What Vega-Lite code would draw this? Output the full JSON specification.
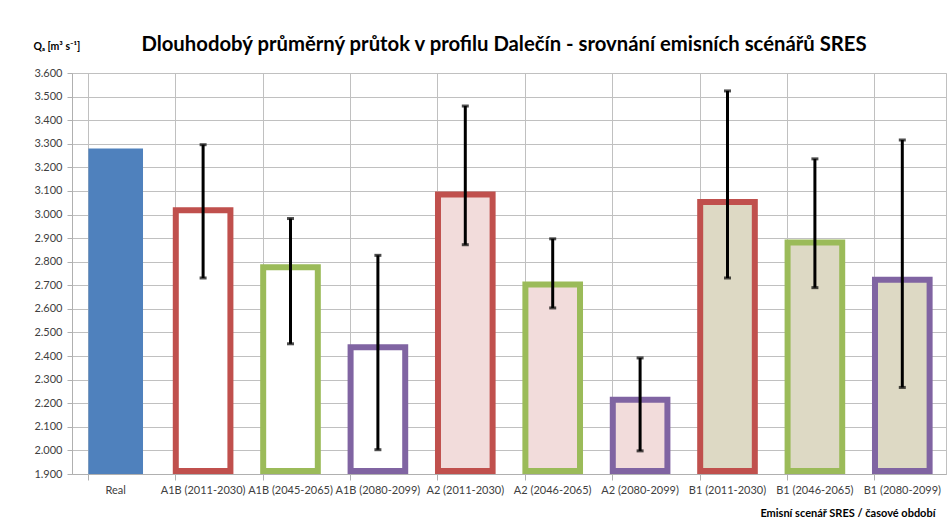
{
  "$schema": "https://vega.github.io/schema/vega-lite/v6.json",
  "width": 874,
  "height": 401,
  "autosize": "none",
  "padding": {"left": 72, "top": 73, "right": 3, "bottom": 51},
  "background": "white",
  "config": {
    "font": "Lato",
    "view": {"stroke": "#c0c0c0", "strokeWidth": 1},
    "axis": {"labelFont": "Lato", "titleFont": "Lato"}
  },
  "title": {
    "text": "Dlouhodobý průměrný průtok v profilu Dalečín - srovnání emisních scénářů SRES",
    "font": "Lato",
    "fontSize": 20.3,
    "fontWeight": "bold",
    "color": "#000000",
    "anchor": "middle",
    "dx": -5,
    "offset": -30,
    "baseline": "alphabetic"
  },
  "data": {
    "values": [
      {"label": "Real", "scenario": "Real", "horizon": "Real", "q": 3.28, "lo": null, "hi": null},
      {"label": "A1B (2011-2030)", "scenario": "A1B", "horizon": "near", "q": 3.018, "lo": 2.731, "hi": 3.296},
      {"label": "A1B (2045-2065)", "scenario": "A1B", "horizon": "mid", "q": 2.777, "lo": 2.452, "hi": 2.983},
      {"label": "A1B (2080-2099)", "scenario": "A1B", "horizon": "far", "q": 2.437, "lo": 2.003, "hi": 2.827},
      {"label": "A2 (2011-2030)", "scenario": "A2", "horizon": "near", "q": 3.085, "lo": 2.872, "hi": 3.46},
      {"label": "A2 (2046-2065)", "scenario": "A2", "horizon": "mid", "q": 2.703, "lo": 2.604, "hi": 2.897},
      {"label": "A2 (2080-2099)", "scenario": "A2", "horizon": "far", "q": 2.215, "lo": 1.998, "hi": 2.392},
      {"label": "B1 (2011-2030)", "scenario": "B1", "horizon": "near", "q": 3.053, "lo": 2.731, "hi": 3.524},
      {"label": "B1 (2046-2065)", "scenario": "B1", "horizon": "mid", "q": 2.881, "lo": 2.69, "hi": 3.236},
      {"label": "B1 (2080-2099)", "scenario": "B1", "horizon": "far", "q": 2.723, "lo": 2.267, "hi": 3.316}
    ]
  },
  "encoding": {
    "x": {
      "field": "label",
      "type": "nominal",
      "sort": null,
      "scale": {"paddingInner": 0.375, "paddingOuter": 0.1875}
    }
  },
  "layer": [
    {
      "mark": {"type": "bar", "strokeWidth": 6},
      "encoding": {
        "x": {
          "field": "label",
          "type": "nominal",
          "sort": null,
          "axis": {
            "orient": "bottom",
            "title": "Emisní scenář SRES / časové období",
            "titleFontSize": 11,
            "titleFontWeight": "bold",
            "titleColor": "#000000",
            "titleAnchor": "end",
            "titleAlign": "right",
            "titleX": 863,
            "titleY": 42,
            "titleBaseline": "alphabetic",
            "labelAngle": 0,
            "labelFontSize": 11,
            "labelColor": "#404040",
            "labelPadding": 10,
            "labelOverlap": false,
            "ticks": false,
            "grid": false,
            "domain": false
          }
        },
        "y": {
          "field": "q",
          "type": "quantitative",
          "scale": {"domain": [1.9, 3.6], "zero": false, "nice": false},
          "axis": {
            "title": "Qₐ [m³ s⁻¹]",
            "titleAngle": 0,
            "titleAlign": "left",
            "titleBaseline": "alphabetic",
            "titleX": -39,
            "titleY": -24,
            "titleFontSize": 10.5,
            "titleFontWeight": "bold",
            "titleColor": "#000000",
            "values": [1.9, 2.0, 2.1, 2.2, 2.3, 2.4, 2.5, 2.6, 2.7, 2.8, 2.9, 3.0, 3.1, 3.2, 3.3, 3.4, 3.5, 3.6],
            "tickCount": 30,
            "format": ".3f",
            "labelFontSize": 11,
            "labelColor": "#404040",
            "labelPadding": 5,
            "labelOverlap": false,
            "tickSize": 5,
            "tickColor": "#b0b0b0",
            "domainColor": "#b0b0b0",
            "gridColor": "#c0c0c0",
            "grid": true
          }
        },
        "y2": {"datum": 1.9},
        "fill": {
          "field": "scenario",
          "type": "nominal",
          "scale": {"domain": ["Real", "A1B", "A2", "B1"], "range": ["#4F81BD", "#FFFFFF", "#F2DCDB", "#DDD9C4"]},
          "legend": null
        },
        "stroke": {
          "field": "horizon",
          "type": "nominal",
          "scale": {"domain": ["Real", "near", "mid", "far"], "range": ["#4F81BD", "#C0504D", "#9BBB59", "#8064A2"]},
          "legend": null
        },
        "strokeOpacity": {"condition": {"test": "datum.scenario === 'Real'", "value": 0}, "value": 0}
      }
    },
    {
      "transform": [{"filter": "datum.scenario !== 'Real'"}],
      "mark": {"type": "bar", "strokeWidth": 6},
      "encoding": {
        "x": {"field": "label", "type": "nominal", "sort": null, "axis": null},
        "y": {"field": "q", "type": "quantitative"},
        "y2": {"datum": 1.913},
        "fill": {"field": "scenario", "type": "nominal", "legend": null},
        "stroke": {"field": "horizon", "type": "nominal", "legend": null}
      }
    },
    {
      "mark": {"type": "rule", "color": "#000000", "strokeWidth": 3},
      "encoding": {
        "x": {
          "field": "label",
          "type": "nominal",
          "sort": null,
          "axis": {
            "orient": "bottom",
            "title": null,
            "labels": false,
            "ticks": true,
            "tickSize": 6,
            "tickColor": "#b0b0b0",
            "bandPosition": 0,
            "grid": true,
            "gridColor": "#c0c0c0",
            "domain": true,
            "domainColor": "#b0b0b0"
          }
        },
        "y": {"field": "lo", "type": "quantitative"},
        "y2": {"field": "hi"}
      }
    },
    {
      "mark": {"type": "tick", "color": "#000000", "orient": "horizontal", "size": 7, "thickness": 3},
      "encoding": {
        "x": {"field": "label", "type": "nominal", "sort": null, "axis": null},
        "y": {"field": "lo", "type": "quantitative"}
      }
    },
    {
      "mark": {"type": "tick", "color": "#000000", "orient": "horizontal", "size": 7, "thickness": 3},
      "encoding": {
        "x": {"field": "label", "type": "nominal", "sort": null, "axis": null},
        "y": {"field": "hi", "type": "quantitative"}
      }
    }
  ],
  "resolve": {"axis": {"x": "independent"}}
}
